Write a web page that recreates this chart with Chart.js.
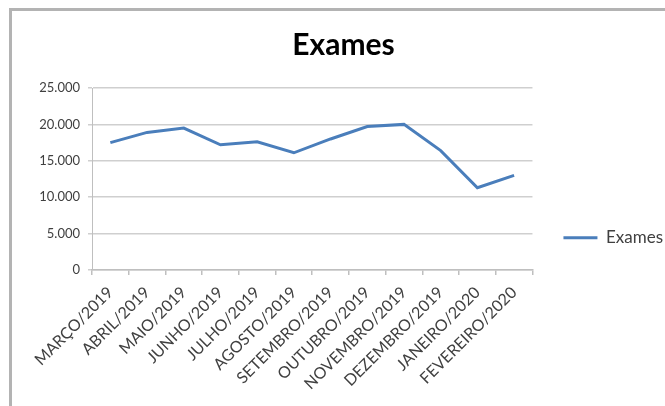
<!DOCTYPE html>
<html>
<head>
<meta charset="utf-8">
<script src="https://cdn.jsdelivr.net/npm/chart.js@4.4.0/dist/chart.umd.min.js"></script>
<style>
  html, body { margin: 0; padding: 0; background: #fff; }
  #frame {
    position: absolute; left: 9px; top: 8px; width: 680px; height: 420px;
    border-left: 3px solid #b3b3b3; border-top: 3px solid #b3b3b3;
  }
  #wrap { position: absolute; left: 0; top: 0; width: 665px; height: 406px; }
</style>
</head>
<body>
<div id="frame"></div>
<div id="wrap"><canvas id="chart-line"></canvas></div>
<script>
const months = ["MARÇO/2019", "ABRIL/2019", "MAIO/2019", "JUNHO/2019", "JULHO/2019", "AGOSTO/2019",
  "SETEMBRO/2019", "OUTUBRO/2019", "NOVEMBRO/2019", "DEZEMBRO/2019", "JANEIRO/2020", "FEVEREIRO/2020"]
const exames = [17500, 18900, 19500, 17200, 17600, 16100, 18000, 19700, 20000, 16400, 11300, 13000]
const yTicks = [0, 5000, 10000, 15000, 20000, 25000]

const fmt = (v) => String(v).replace(/\B(?=(\d{3})+(?!\d))/g, '.')

const ctx = document.getElementById("chart-line").getContext("2d")

new Chart(ctx, {
  type: "line",
  data: {
    labels: months,
    datasets: [{
      label: "Exames",
      data: exames,
      borderColor: "#4a7ebb",
      backgroundColor: "#4a7ebb",
      borderWidth: 3,
      pointRadius: 0,
      tension: 0,
      fill: false
    }]
  },
  options: {
    responsive: true,
    maintainAspectRatio: false,
    animation: false,
    // asymmetric padding keeps the title centred where the reference has it
    layout: { padding: { left: 14, right: -8, top: 0, bottom: 0 } },
    plugins: {
      title: {
        display: true,
        text: "Exames",
        color: "#000",
        font: { family: "Lato", size: 30, weight: "bold" },
        padding: { top: 27, bottom: 25 }
      },
      legend: {
        display: true,
        position: "right",
        align: "center",
        // empty title only pushes the single legend entry down, like the reference
        title: { display: true, text: " ", font: { size: 13 }, padding: { top: 0, bottom: 54 } },
        labels: {
          usePointStyle: true,
          pointStyle: "line",
          pointStyleWidth: 34,
          color: "#404040",
          font: { family: "Lato", size: 17 },
          padding: 31
        }
      },
      tooltip: { enabled: false }
    },
    scales: {
      y: {
        min: 0,
        max: 25000,
        afterBuildTicks: (axis) => { axis.ticks = yTicks.map(v => ({ value: v })) },
        afterFit: (axis) => { axis.width = 78 },
        border: { display: true, color: "#bfbfbf", width: 1 },
        grid: { color: "#cfcfcf", lineWidth: 1.5, drawTicks: true, tickLength: 4 },
        ticks: {
          color: "#404040",
          padding: 8,
          font: { family: "Lato", size: 13 },
          callback: (v) => fmt(v)
        }
      },
      x: {
        offset: true,
        afterFit: (axis) => { axis.height = 136 },
        border: { display: true, color: "#bfbfbf", width: 1.5 },
        grid: { offset: true, drawOnChartArea: false, drawTicks: true, tickLength: 5, color: "#bfbfbf", lineWidth: 1.5 },
        ticks: {
          color: "#404040",
          minRotation: 45,
          maxRotation: 45,
          autoSkip: false,
          padding: 8,
          font: { family: "Lato", size: 16 }
        }
      }
    }
  }
})
</script>
</body>
</html>
